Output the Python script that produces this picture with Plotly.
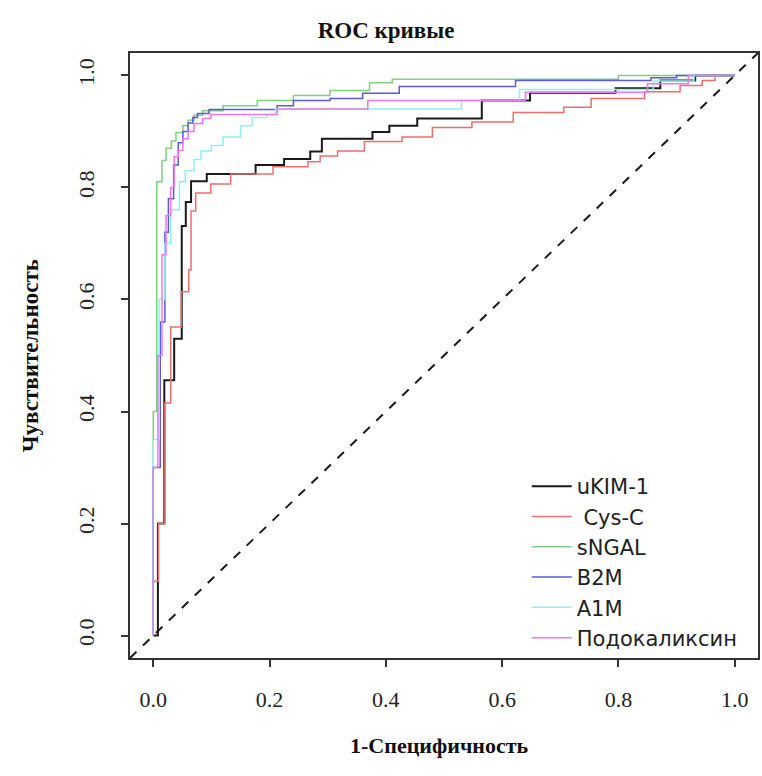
import plotly.graph_objects as go

# ---- data ----
series_names = ["uKIM-1", " Cys-C", "sNGAL", "B2M", "A1M", "Подокаликсин"]
series_colors = ["#1a1a1a", "#ee6e6e", "#80d080", "#5a5ae0", "#8ff2f2", "#ec78ec"]

ukim_fpr = [0, 0.008, 0.019, 0.036, 0.049, 0.056, 0.065, 0.092, 0.176, 0.225, 0.27, 0.29, 0.377, 0.406, 0.454, 0.565, 0.648, 0.795, 0.872, 0.932, 1.0]
ukim_tpr = [0, 0.2, 0.456, 0.53, 0.731, 0.774, 0.811, 0.824, 0.84, 0.851, 0.864, 0.887, 0.899, 0.91, 0.923, 0.955, 0.969, 0.977, 0.991, 1.0, 1.0]

cys_fpr = [0, 0, 0.009, 0.02, 0.03, 0.048, 0.061, 0.065, 0.073, 0.099, 0.133, 0.206, 0.266, 0.287, 0.317, 0.363, 0.428, 0.48, 0.548, 0.619, 0.706, 0.753, 0.845, 0.906, 0.944, 0.966, 1.0]
cys_tpr = [0, 0.097, 0.2, 0.415, 0.551, 0.614, 0.653, 0.758, 0.79, 0.806, 0.824, 0.837, 0.846, 0.856, 0.865, 0.882, 0.89, 0.907, 0.917, 0.934, 0.943, 0.959, 0.971, 0.982, 0.991, 1.0, 1.0]

ngal_fpr = [0, 0, 0.006, 0.015, 0.022, 0.031, 0.039, 0.051, 0.060, 0.070, 0.085, 0.120, 0.179, 0.241, 0.304, 0.372, 0.411, 0.80, 1.0]
ngal_tpr = [0, 0.40, 0.81, 0.848, 0.87, 0.883, 0.898, 0.91, 0.92, 0.929, 0.937, 0.946, 0.955, 0.964, 0.973, 0.987, 0.993, 1.0, 1.0]

b2m_fpr = [0, 0, 0.012, 0.02, 0.026, 0.035, 0.043, 0.051, 0.06, 0.068, 0.076, 0.096, 0.213, 0.241, 0.304, 0.36, 0.423, 0.623, 0.856, 0.90, 1.0]
b2m_tpr = [0, 0.30, 0.56, 0.72, 0.78, 0.84, 0.88, 0.90, 0.915, 0.925, 0.932, 0.939, 0.946, 0.955, 0.959, 0.968, 0.980, 0.991, 0.996, 1.0, 1.0]

a1m_fpr = [0, 0, 0.01, 0.02, 0.03, 0.045, 0.055, 0.07, 0.082, 0.10, 0.12, 0.15, 0.17, 0.195, 0.21, 0.53, 0.63, 0.86, 0.93, 1.0]
a1m_tpr = [0, 0.35, 0.60, 0.70, 0.76, 0.81, 0.83, 0.85, 0.865, 0.875, 0.89, 0.91, 0.925, 0.93, 0.94, 0.955, 0.975, 0.99, 1.0, 1.0]

podo_fpr = [0, 0, 0.008, 0.015, 0.022, 0.03, 0.036, 0.043, 0.051, 0.060, 0.070, 0.085, 0.099, 0.213, 0.369, 0.64, 0.85, 0.92, 1.0]
podo_tpr = [0, 0.30, 0.50, 0.68, 0.75, 0.80, 0.855, 0.866, 0.887, 0.90, 0.914, 0.923, 0.93, 0.94, 0.955, 0.97, 0.985, 1.0, 1.0]

series_fpr = [ukim_fpr, cys_fpr, ngal_fpr, b2m_fpr, a1m_fpr, podo_fpr]
series_tpr = [ukim_tpr, cys_tpr, ngal_tpr, b2m_tpr, a1m_tpr, podo_tpr]
series_widths = [2, 1.5, 1.5, 1.5, 1.5, 1.5]

tick_vals = [0.0, 0.2, 0.4, 0.6, 0.8, 1.0]
tick_text = ["0.0", "0.2", "0.4", "0.6", "0.8", "1.0"]

fig = go.Figure()
for name, col, xs, ys, w in zip(series_names, series_colors, series_fpr, series_tpr, series_widths):
    fig.add_trace(go.Scatter(x=xs, y=ys, mode="lines", name=name,
                             line=dict(color=col, width=w, shape="hv")))

# diagonal reference y = x (axes share identical ranges)
fig.add_shape(type="line", xref="paper", yref="paper", x0=0, y0=0, x1=1, y1=1,
              line=dict(color="#1a1a1a", width=2, dash="dash"))

serif = "Liberation Serif, Times New Roman, serif"
axis_common = dict(range=[-0.04, 1.04], tickvals=tick_vals, ticktext=tick_text,
                   ticks="outside", ticklen=7, tickwidth=1.5, tickcolor="#333",
                   showline=True, linecolor="#333", linewidth=1.5, mirror=True,
                   showgrid=False, zeroline=False,
                   tickfont=dict(family=serif, size=22, color="#222"))

fig.update_layout(
    width=762, height=776, autosize=False,
    margin=dict(l=130, r=2, t=53, b=118),
    paper_bgcolor="white", plot_bgcolor="white",
    title=dict(text="<b>ROC кривые</b>", x=386/762, xref="container", xanchor="center",
               y=1 - 30/776, yref="container", yanchor="middle",
               font=dict(family=serif, size=23, color="#111")),
    xaxis=dict(**axis_common, ticklabelstandoff=14),
    yaxis=dict(**axis_common, tickangle=-90, ticklabelstandoff=18),
    showlegend=True,
    legend=dict(x=(528-130)/630, y=(658-466)/605, xanchor="left", yanchor="top",
                bgcolor="rgba(255,255,255,0)", borderwidth=0,
                font=dict(family="DejaVu Sans, Liberation Sans, sans-serif", size=21, color="#222"),
                tracegroupgap=0, itemwidth=40),
    annotations=[
        dict(text="<b>1-Специфичность</b>", xref="paper", yref="paper",
             x=(440-130)/630, y=(658-745)/605, xanchor="center", yanchor="middle",
             showarrow=False, font=dict(family=serif, size=22, color="#111")),
        dict(text="<b>Чувствительность</b>", xref="paper", yref="paper",
             x=(30-130)/630, y=(658-356)/605, xanchor="center", yanchor="middle",
             textangle=-90, showarrow=False, font=dict(family=serif, size=23, color="#111")),
    ],
)

fig.write_html("out.html", config={"displayModeBar": False},
               post_script="document.body.style.margin='0';document.body.style.overflow='hidden';")
